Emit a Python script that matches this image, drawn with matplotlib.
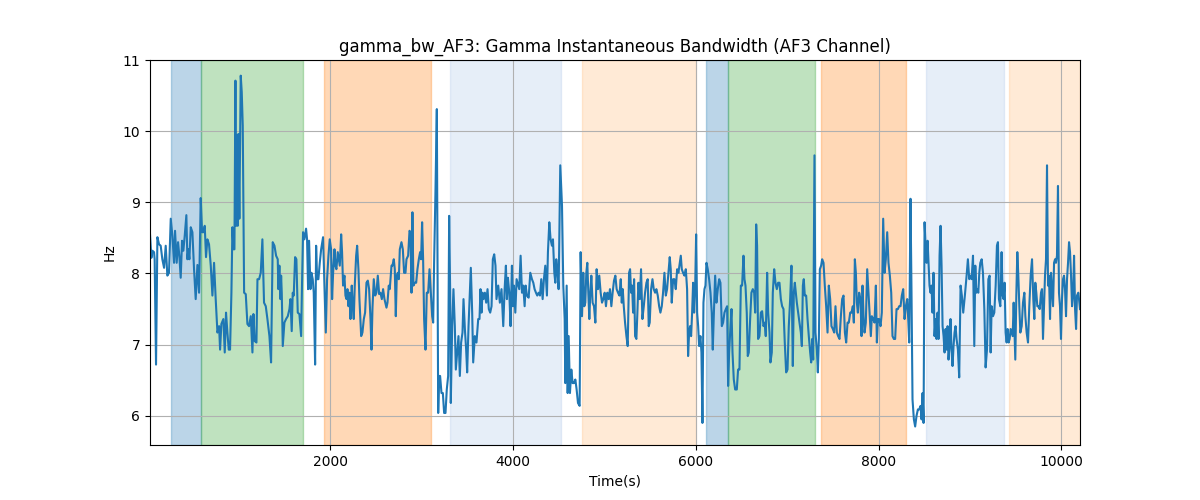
import numpy as np
import matplotlib.pyplot as plt

# time axis (s) and gamma bandwidth (Hz)
time_s = [
    25, 40, 51, 69, 76, 91, 106, 124, 142, 160, 179, 197, 215, 233, 252, 270, 288, 299, 317, 332,
    346, 361, 376, 390, 405, 423, 434, 445, 456, 471, 489, 507, 525, 544, 562, 580, 595, 609, 624, 638,
    653, 671, 690, 708, 726, 744, 763, 781, 792, 806, 828, 843, 857, 872, 887, 901, 916, 927, 938, 949,
    960, 967, 974, 985, 992, 1003, 1018, 1029, 1040, 1055, 1073, 1091, 1109, 1128, 1146, 1157, 1171, 1190, 1201, 1219,
    1237, 1255, 1273, 1292, 1310,
    1332, 1350, 1368, 1387, 1405, 1423, 1430, 1441, 1452, 1460, 1467, 1478, 1496, 1514, 1533, 1551, 1562, 1576, 1587, 1598,
    1613, 1627, 1642, 1660, 1679, 1689, 1700, 1715, 1733, 1744, 1755, 1766, 1781, 1792, 1806, 1817, 1832, 1843, 1854, 1868,
    1883, 1898, 1919, 1934, 1949, 1963, 1978, 1992, 2007, 2018, 2029, 2044, 2054, 2065, 2080, 2102, 2117, 2127, 2138, 2153,
    2164, 2175, 2186, 2197, 2208, 2219, 2233, 2244, 2255, 2266, 2281, 2292, 2306, 2317, 2336, 2350, 2365, 2379, 2394, 2409,
    2423, 2438, 2449, 2460, 2474, 2489, 2503, 2518, 2533, 2547, 2562, 2576, 2591,
    2613, 2624, 2638, 2649, 2668, 2678, 2693, 2704, 2715, 2726, 2737, 2748, 2759, 2777, 2792, 2806, 2821, 2832, 2850, 2865,
    2876, 2887, 2897, 2908, 2923, 2938, 2952, 2967, 2981, 2992, 3003, 3014, 3025, 3040, 3054, 3069, 3084, 3098, 3113, 3124,
    3135, 3149, 3164, 3171, 3179, 3189, 3200, 3215, 3230, 3244, 3259, 3273, 3288, 3299, 3310, 3317, 3332, 3346, 3361, 3372,
    3387, 3401, 3416, 3430, 3445, 3456, 3471, 3485, 3496, 3511, 3525, 3536, 3551, 3562, 3580, 3598, 3617, 3631, 3642, 3653,
    3664, 3675, 3690, 3704, 3719, 3733, 3748, 3763, 3777, 3792, 3806, 3817, 3836, 3854, 3872,
    3891, 3906, 3920, 3931, 3942, 3957, 3971, 3986, 3997, 4008, 4023, 4037, 4052, 4066, 4081, 4096, 4110, 4125, 4136, 4150,
    4169, 4187, 4205, 4220, 4234, 4249, 4263, 4278, 4293, 4307, 4322, 4336, 4351, 4369, 4380, 4395, 4409, 4424, 4435, 4450,
    4461, 4471, 4482, 4497, 4515, 4534, 4548, 4563, 4570, 4585, 4596, 4607, 4621, 4636, 4650, 4665, 4680, 4694, 4709, 4727,
    4738, 4753, 4767, 4778, 4789, 4800, 4811, 4822, 4833, 4844, 4855, 4869, 4884, 4899, 4913, 4928, 4942, 4957, 4972, 4986,
    5001, 5015, 5030, 5045, 5059, 5074, 5088, 5103, 5118, 5132, 5147,
    5162, 5177, 5188, 5199, 5210, 5224, 5239, 5253, 5268, 5279, 5290, 5301, 5312, 5323, 5334, 5348, 5359, 5370, 5385, 5399,
    5414, 5429, 5443, 5458, 5472, 5483, 5494, 5509, 5524, 5538, 5553, 5567, 5582, 5597, 5611, 5626, 5640, 5655, 5670, 5684,
    5699, 5713, 5724, 5735, 5750, 5764, 5779, 5794, 5808, 5823, 5834, 5845, 5859, 5874, 5889, 5903, 5914, 5925, 5936, 5947,
    5958, 5969, 5980, 5991, 6002, 6013, 6024, 6035, 6049, 6060, 6071, 6082, 6093, 6104, 6115, 6129, 6144, 6159, 6173, 6184,
    6195, 6210, 6224, 6239, 6254, 6268, 6283, 6297, 6312, 6327, 6341, 6352, 6363, 6378, 6389, 6400, 6414, 6429,
    6447, 6461, 6476, 6491, 6505, 6520, 6531, 6542, 6556, 6567, 6578, 6593, 6607, 6622, 6637, 6648, 6659, 6669, 6680, 6695,
    6710, 6724, 6739, 6753, 6764, 6779, 6790, 6805, 6815, 6830, 6841, 6856, 6870, 6885, 6899, 6914, 6929, 6943, 6958, 6972,
    6987, 7002, 7016, 7031, 7045, 7060, 7071, 7082, 7093, 7104, 7118, 7133, 7148, 7159, 7170, 7180, 7191, 7206, 7221, 7235,
    7250, 7261, 7272, 7283, 7297, 7308, 7323, 7334, 7345, 7356, 7370, 7381, 7396, 7410, 7425, 7440, 7454, 7469, 7483, 7498,
    7513, 7527, 7542, 7556, 7571, 7586, 7600, 7615, 7630, 7644, 7659, 7673, 7688, 7702, 7717,
    7728, 7739, 7750, 7761, 7772, 7786, 7801, 7812, 7823, 7834, 7845, 7859, 7874, 7888, 7903, 7914, 7925, 7940, 7954, 7969,
    7980, 7991, 8005, 8020, 8034, 8049, 8064, 8078, 8093, 8107, 8122, 8137, 8151, 8166, 8180, 8195, 8210, 8224, 8239, 8253,
    8268, 8283, 8297, 8312, 8323, 8334, 8348, 8359, 8370, 8385, 8399, 8414, 8429, 8443, 8458, 8469, 8480, 8491, 8502, 8513,
    8524, 8535, 8545, 8556, 8567, 8578, 8589, 8600, 8611, 8622, 8633, 8644, 8655, 8666, 8677, 8688, 8699, 8710, 8721, 8732,
    8743, 8754, 8764, 8775, 8786, 8797, 8808, 8819, 8830, 8841, 8852, 8867, 8881, 8896, 8910, 8925, 8943, 8962, 8976, 8991,
    9002, 9017, 9032, 9046, 9057, 9068, 9079, 9090, 9101, 9112, 9127, 9141, 9156, 9170, 9185, 9200, 9214, 9225, 9236, 9251,
    9265, 9280, 9294, 9305, 9316, 9331, 9345, 9356, 9367, 9378, 9389, 9400, 9411, 9422, 9433, 9444, 9455, 9466, 9477, 9488,
    9495, 9506, 9517, 9528, 9539, 9550, 9565, 9579, 9594, 9605, 9619, 9634, 9648, 9663, 9678, 9692, 9703, 9714, 9725, 9736,
    9747, 9762, 9776, 9787, 9798, 9809, 9820, 9831, 9842, 9853, 9864, 9875, 9886, 9897, 9908, 9919, 9930, 9940, 9951, 9962,
    9973, 9984, 9995, 10006, 10017, 10028, 10039, 10050, 10061, 10072, 10083, 10094, 10105, 10116, 10127, 10138, 10149, 10160, 10170, 10185,
    10196, 10203,
]

bw_hz = [
    8.55, 8.22, 8.32, 8.30, 8.20, 6.72, 8.51, 8.41, 8.39, 8.20, 8.08, 8.39, 7.97, 8.01, 8.77, 8.53, 8.15, 8.60, 8.15, 8.44,
    8.25, 7.94, 8.46, 8.32, 8.53, 8.82, 8.20, 8.34, 8.20, 8.65, 8.58, 8.06, 7.64, 8.12, 7.73, 9.06, 8.58, 8.58, 8.67, 8.23,
    8.48, 8.41, 8.11, 7.69, 8.15, 7.64, 7.17, 7.26, 6.93, 7.29, 7.36, 6.89, 7.45, 7.17, 6.93, 6.93, 7.73, 8.65, 8.34, 8.34,
    10.71, 8.67, 9.94, 8.67, 9.96, 8.77, 10.78, 10.55, 10.08, 7.73, 7.71, 7.29, 7.26, 7.40, 6.89, 7.43, 7.05, 7.03, 7.92, 7.92,
    8.01, 8.48, 7.59, 7.54, 7.36,
    7.12, 6.75, 8.44, 8.39, 8.25, 8.20, 7.78, 8.11, 7.64, 7.97, 7.73, 6.98, 7.31, 7.36, 7.40, 7.50, 7.64, 7.19, 7.73, 7.69,
    8.23, 8.20, 7.45, 7.43, 7.12, 7.87, 8.58, 8.48, 8.63, 8.48, 7.78, 8.46, 7.78, 8.01, 7.92, 7.73, 6.72, 8.39, 7.92, 7.92,
    8.15, 8.34, 8.51, 7.83, 7.17, 7.92, 8.25, 8.48, 8.34, 7.64, 8.01, 8.34, 8.11, 8.06, 8.30, 8.11, 8.55, 8.30, 7.83, 7.97,
    7.69, 7.64, 7.78, 7.54, 7.73, 7.36, 7.83, 7.54, 7.36, 7.83, 8.25, 8.39, 8.06, 7.64, 7.12, 7.17, 7.36, 7.45, 7.87, 7.90,
    7.78, 7.36, 6.93, 7.52, 7.92, 7.69, 7.73, 7.97, 7.71, 7.73, 7.64, 7.78, 7.64,
    7.52, 7.59, 7.83, 7.78, 8.11, 8.11, 8.20, 8.06, 7.40, 7.97, 8.01, 7.92, 8.34, 8.44, 8.34, 8.01, 8.01, 8.20, 8.25, 8.60,
    8.58, 7.73, 8.86, 7.83, 7.87, 7.87, 8.06, 8.20, 8.30, 8.20, 8.72, 8.20, 7.36, 6.93, 7.73, 7.73, 8.06, 7.73, 7.40, 7.31,
    8.20, 9.14, 10.31, 8.20, 6.04, 6.56, 6.56, 6.32, 6.32, 6.04, 6.04, 6.37, 6.56, 8.81, 7.73, 6.18, 7.26, 7.78, 7.26, 6.65,
    6.89, 7.12, 6.56, 7.03, 7.17, 7.64, 7.22, 6.93, 6.61, 7.26, 7.73, 8.08, 7.45, 6.75, 7.12, 7.03, 7.36, 7.36, 7.78, 7.45,
    7.73, 7.64, 7.73, 7.59, 7.78, 7.50, 7.45, 7.54, 8.20, 8.27, 8.11, 7.64, 7.83, 7.59, 7.78,
    7.26, 7.78, 8.11, 7.64, 7.94, 7.73, 7.26, 8.11, 7.54, 7.83, 7.45, 7.92, 7.85, 7.78, 8.25, 7.73, 7.83, 7.54, 7.83, 7.69,
    7.66, 8.01, 7.92, 7.87, 7.78, 7.73, 7.69, 7.73, 7.69, 7.92, 7.64, 7.92, 8.11, 7.69, 8.30, 8.72, 8.48, 8.39, 8.48, 8.01,
    7.87, 8.20, 8.06, 7.78, 9.52, 8.95, 7.83, 7.36, 6.46, 7.83, 6.32, 7.12, 6.32, 6.65, 6.46, 6.46, 6.51, 6.37, 6.18, 6.14,
    8.30, 7.40, 8.01, 7.54, 7.59, 8.01, 8.15, 7.73, 7.36, 7.73, 7.97, 7.59, 7.54, 7.31, 8.06, 7.78, 7.97, 7.73, 7.59, 7.64,
    7.73, 7.54, 7.73, 7.64, 7.78, 7.54, 7.73, 7.90, 7.97, 7.78, 7.73,
    7.69, 7.92, 7.59, 7.78, 7.54, 7.31, 7.12, 6.98, 8.01, 8.06, 7.73, 7.83, 7.45, 7.92, 7.12, 7.08, 7.45, 7.87, 7.64, 8.06,
    7.36, 7.54, 7.73, 7.87, 7.92, 7.26, 7.31, 7.78, 7.92, 7.78, 7.73, 7.78, 7.69, 7.54, 7.45, 7.54, 7.73, 8.01, 7.69, 7.78,
    8.01, 8.23, 8.06, 7.59, 7.92, 7.92, 7.78, 8.06, 8.01, 8.15, 8.25, 8.06, 8.01, 7.97, 8.06, 7.78, 6.84, 7.17, 7.26, 7.12,
    7.45, 7.87, 7.45, 7.78, 8.55, 7.45, 7.26, 6.98, 7.12, 6.89, 5.90, 7.59, 7.78, 7.83, 8.15, 8.06, 7.92, 7.73, 7.45, 6.93,
    7.40, 7.97, 7.59, 7.78, 7.92, 7.87, 7.26, 7.31, 7.45, 7.50, 7.54, 6.42, 6.89, 7.26, 7.50, 6.89, 6.51, 6.37,
    6.37, 6.65, 6.65, 7.83, 7.83, 8.25, 7.92, 7.83, 7.45, 6.84, 6.89, 7.36, 7.73, 7.78, 7.73, 7.45, 8.69, 8.39, 7.08, 7.12,
    7.45, 7.47, 7.26, 7.31, 7.12, 8.01, 7.45, 7.17, 6.75, 6.89, 7.73, 8.06, 7.87, 7.78, 7.87, 7.87, 7.64, 7.54, 7.50, 7.03,
    6.61, 6.65, 7.26, 7.64, 8.11, 6.70, 7.73, 7.87, 7.73, 7.59, 7.45, 7.31, 7.17, 6.98, 7.83, 7.92, 7.69, 7.69, 7.36, 7.12,
    6.89, 6.75, 7.08, 6.79, 9.66, 7.17, 6.93, 6.61, 7.08, 8.06, 8.11, 8.20, 8.15, 7.83, 7.54, 7.17, 7.83, 7.64, 7.26, 7.22,
    7.17, 7.54, 7.17, 7.12, 7.08, 7.40, 7.64, 7.69, 7.17, 7.03, 7.31, 7.31, 7.45, 7.45, 7.54,
    7.31, 8.20, 8.01, 7.59, 7.45, 7.73, 7.64, 7.12, 7.83, 7.40, 7.17, 7.31, 8.06, 7.73, 7.36, 7.12, 7.40, 7.36, 7.31, 7.83,
    7.03, 7.36, 7.36, 7.26, 7.45, 8.77, 8.01, 8.20, 8.58, 8.15, 7.97, 7.73, 7.12, 7.08, 7.08, 7.50, 7.50, 7.54, 7.54, 7.69,
    7.78, 7.36, 7.54, 7.64, 7.36, 7.03, 9.05, 7.73, 6.23, 5.95, 5.85, 6.00, 6.09, 6.09, 6.14, 5.95, 6.32, 5.90, 8.72, 8.39,
    8.15, 8.46, 8.15, 7.83, 7.73, 7.83, 7.45, 8.01, 7.12, 7.36, 7.08, 7.45, 7.08, 8.25, 8.67, 8.11, 7.26, 7.12, 6.89, 7.22,
    6.93, 7.26, 6.79, 6.98, 7.36, 6.93, 6.70, 6.98, 7.17, 7.26, 7.08, 6.93, 6.54, 7.83, 7.69, 7.45, 7.69, 7.97, 8.20, 7.92,
    7.97, 7.92, 8.25, 6.98, 8.11, 7.73, 7.78, 7.73, 8.01, 8.15, 8.20, 8.01, 7.50, 6.68, 6.93, 7.92, 7.97, 6.89, 7.54, 7.40,
    7.45, 7.83, 8.39, 8.44, 7.64, 7.54, 8.30, 7.69, 7.64, 7.87, 7.17, 7.03, 7.22, 7.03, 7.08, 7.22, 7.17, 7.12, 7.59, 7.12,
    6.79, 7.69, 8.30, 7.97, 7.54, 7.17, 7.26, 7.59, 7.73, 7.40, 7.17, 7.03, 7.54, 7.97, 8.20, 7.64, 7.36, 7.87, 7.73, 7.54,
    7.54, 7.50, 7.73, 7.78, 7.08, 7.54, 7.97, 8.20, 9.52, 7.83, 7.97, 7.36, 8.01, 7.78, 7.54, 8.15, 8.20, 8.15, 8.25, 9.23,
    7.73, 7.54, 7.08, 7.64, 7.92, 7.97, 7.78, 7.40, 7.92, 8.15, 8.44, 8.30, 7.97, 7.54, 7.69, 8.25, 7.50, 7.22, 7.69, 7.73,
    7.59, 7.50,
]

# shaded segments: start, end, colour
seg_start = [258, 587, 1933, 3303, 4749, 6107, 6348, 7366, 8516, 9425]
seg_end = [587, 1704, 3105, 4519, 5997, 6348, 7300, 8297, 9370, 10204]
seg_color = ['tab:blue', 'tab:green', 'tab:orange', '#aec7e8', '#ffbb78',
             'tab:blue', 'tab:green', 'tab:orange', '#aec7e8', '#ffbb78']

fig, ax = plt.subplots(figsize=(12, 5), dpi=100)

for s, e, c in zip(seg_start, seg_end, seg_color):
    ax.axvspan(s, e, color=c, alpha=0.3)

ax.plot(time_s, bw_hz, color='tab:blue', linewidth=1.5)

ax.set_xlim(time_s[0], time_s[-1])
ax.set_ylim(5.59, 11.0)
ax.set_title('gamma_bw_AF3: Gamma Instantaneous Bandwidth (AF3 Channel)')
ax.set_xlabel('Time(s)')
ax.set_ylabel('Hz')
ax.grid(True)

plt.savefig('out.png')
